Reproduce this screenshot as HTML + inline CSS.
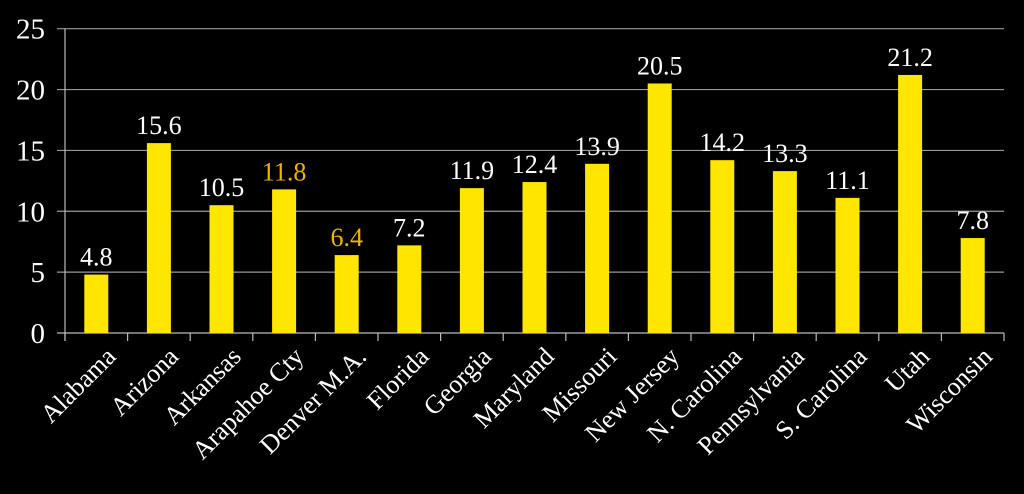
<!DOCTYPE html>
<html><head><meta charset="utf-8"><style>
html,body{margin:0;padding:0;background:#000;}
svg{display:block;}
text{font-family:"Liberation Serif",serif;}
</style></head><body>
<svg id="chart" width="1024" height="494" viewBox="0 0 1024 494"></svg>
<script>
const categories=["Alabama","Arizona","Arkansas","Arapahoe Cty","Denver M.A.","Florida","Georgia","Maryland","Missouri","New Jersey","N. Carolina","Pennsylvania","S. Carolina","Utah","Wisconsin"];
const values=[4.8,15.6,10.5,11.8,6.4,7.2,11.9,12.4,13.9,20.5,14.2,13.3,11.1,21.2,7.8];
const valueLabels=["4.8","15.6","10.5","11.8","6.4","7.2","11.9","12.4","13.9","20.5","14.2","13.3","11.1","21.2","7.8"];
const highlighted=["Arapahoe Cty","Denver M.A."];
const yTicks=[0,5,10,15,20,25];
const NS="http://www.w3.org/2000/svg";
const svg=document.getElementById('chart');
const x0=65,x1=1004,yBase=333,yTop=28.7,yMax=25;
const bw=(x1-x0)/categories.length;
function y(v){return yBase-(v/yMax)*(yBase-yTop);}
function xc(i){return x0+bw*(i+0.5);}
function mk(tag,attrs,txt){const e=document.createElementNS(NS,tag);for(const k in attrs)e.setAttribute(k,attrs[k]);if(txt!==undefined)e.textContent=txt;svg.appendChild(e);return e;}
yTicks.forEach(t=>{
  const g=mk('line',{x1:x0-8,x2:x1,y1:y(t),y2:y(t),stroke:t===0?'#bbb':'#999','stroke-width':1.2});
  
  
  const l=mk('text',{x:x0-20,y:y(t)+10,'text-anchor':'end','font-size':29,fill:'#fff'},String(t));
  
  
});
const ax=mk('line',{x1:x0,x2:x0,y1:yTop,y2:yBase+8,stroke:'#bbb','stroke-width':1.2});


for(let i=0;i<=categories.length;i++){
  const tk=mk('line',{x1:x0+bw*i,x2:x0+bw*i,y1:yBase,y2:yBase+8,stroke:'#bbb','stroke-width':1.2});
  
  
}
categories.forEach((c,i)=>{
  const v=values[i],cx=xc(i),w=24;
  const b=mk('rect',{x:cx-w/2,y:y(v),width:w,height:yBase-y(v),fill:'#ffe600'});
  
  
  const hl=highlighted.includes(c);
  const t=mk('text',{x:cx,y:y(v)-9,'text-anchor':'middle','font-size':26,fill:hl?'#f0b400':'#fff'},valueLabels[i]);
  
  
  const lx=cx+8,ly=yBase+12;
  const cl=mk('text',{x:lx,y:ly,'text-anchor':'end','font-size':26,fill:'#fff',transform:`rotate(-45 ${lx} ${ly})`,'dominant-baseline':'hanging'},c);
  
  
});
</script>
</body></html>
